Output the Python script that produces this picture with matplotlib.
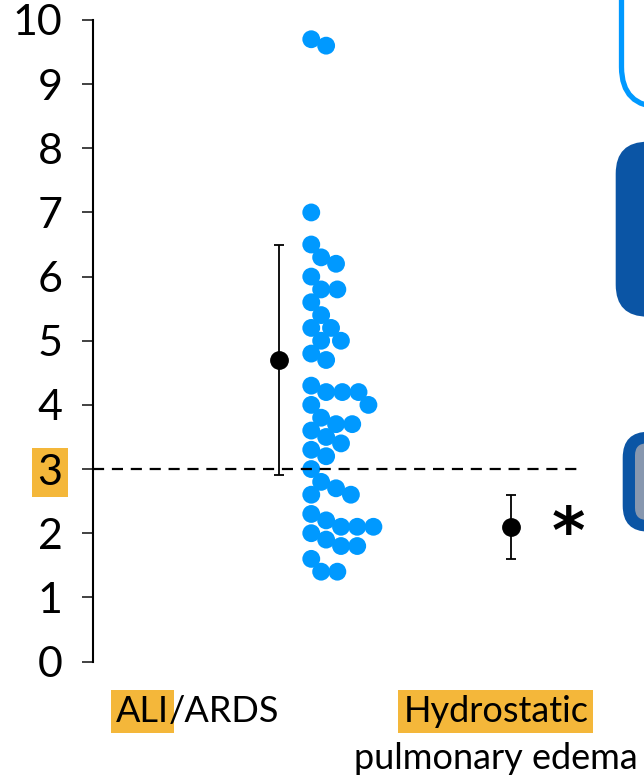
import numpy as np
import matplotlib
matplotlib.use('Agg')
import matplotlib.pyplot as plt
from matplotlib.patches import FancyBboxPatch
from matplotlib.transforms import IdentityTransform, blended_transform_factory

plt.rcParams['font.family'] = ['Lato', 'DejaVu Sans']

categories = ['ALI/ARDS', 'Hydrostatic']
subtitle = 'pulmonary edema'
ali_values = [9.7, 9.6, 7.0, 6.5, 6.3, 6.2, 6.0, 5.8, 5.8, 5.6, 5.4, 5.2, 5.2,
              5.0, 5.0, 4.8, 4.7, 4.3, 4.2, 4.2, 4.2, 4.0, 4.0, 3.8, 3.7, 3.7,
              3.6, 3.5, 3.4, 3.3, 3.2, 3.0, 2.8, 2.7, 2.6, 2.6, 2.3, 2.2, 2.1,
              2.1, 2.1, 2.0, 1.9, 1.8, 1.8, 1.6, 1.4, 1.4]
group_means = [4.7, 2.1]
group_sds = [1.8, 0.5]
y_ticks = list(range(0, 11))
cutoff = 3

W, H = 644, 777
orange = '#F4B73A'
dot_blue = '#0099FF'
dark_blue = '#0B55A5'

group_pos = [1.0, 2.0]
label_pos = [0.651, 1.935]
dot_shift = 0.14
label_fs = 26


def swarm_offsets(yp, d):
    # one-sided beeswarm: each dot goes to the smallest x offset that doesn't
    # collide with dots already placed (all in pixels)
    xs = np.zeros(len(yp))
    placed = []
    for i in np.argsort(-yp, kind='stable'):
        y = yp[i]
        cands = [0.0]
        for px, py in placed:
            dy = abs(py - y)
            if dy < d:
                cands.append(px + np.sqrt(d * d - dy * dy))
        for c in sorted(cands):
            if all((c - px) ** 2 + (y - py) ** 2 >= d * d - 1e-6 for px, py in placed):
                xs[i] = c
                break
        placed.append((xs[i], y))
    return xs


fig = plt.figure(figsize=(W / 100, H / 100), dpi=100)
ax = fig.add_axes([93 / W, 1 - 661.5 / H, 1 - 93 / W, (661.5 - 20) / H])
ax.set_ylim(0, 10)
ax.set_xlim(0.2, 2.573)

# blue dots, spread sideways in pixel space
vals = np.array(ali_values)
base = ax.transData.transform((group_pos[0] + dot_shift, 0))[0]
yp = ax.transData.transform(np.column_stack([np.full(len(vals), group_pos[0]), vals]))[:, 1]
xp = base + swarm_offsets(yp, 16.2)
xd = ax.transData.inverted().transform(np.column_stack([xp, yp]))[:, 0]
ax.scatter(xd, vals, s=165, color=dot_blue, edgecolors='none', zorder=3)

ax.errorbar(group_pos, group_means, yerr=group_sds, fmt='o', color='black',
            ms=12.5, capsize=3.5, elinewidth=1.3, capthick=1.3, zorder=4)

x0, x1 = ax.get_xlim()
ax.axhline(cutoff, xmin=0, xmax=(2.3 - x0) / (x1 - x0), color='black',
           lw=1.6, dashes=(5, 3.5), zorder=5)

ax.annotate('*', xy=(group_pos[1] + 0.246, group_means[1]), xytext=(0, -6),
            textcoords='offset points', fontsize=46, fontweight='bold',
            family='DejaVu Sans', ha='center', va='center')

# axis styling
for s in ['top', 'right', 'bottom']:
    ax.spines[s].set_visible(False)
ax.spines['left'].set_linewidth(1.5)
ax.set_xticks([])
ax.set_yticks(y_ticks)
ax.tick_params(axis='y', length=8, width=1.3, color='#333333', pad=14,
               labelsize=31)
ax.yaxis.get_major_ticks()[y_ticks.index(cutoff)].label1.set_bbox(
    dict(boxstyle='square,pad=0.12', fc=orange, ec='none'))

# category labels under the axis
tr = blended_transform_factory(ax.transData, fig.transFigure)
hl = dict(boxstyle='square,pad=0.14', fc=orange, ec='none')

# "ALI" highlighted, "/ARDS" plain; the pair is centred on its label position
tmp = ax.text(label_pos[0], 0.0712, categories[0], transform=tr,
              ha='center', va='baseline', fontsize=label_fs)
fig.canvas.draw()
left = tmp.get_window_extent().x0
tmp.remove()
head, tail = categories[0].split('/')
tr_px = blended_transform_factory(IdentityTransform(), fig.transFigure)
t_head = ax.text(left, 0.0712, head, transform=tr_px, ha='left',
                 va='baseline', fontsize=label_fs, clip_on=False, bbox=hl)
ax.annotate('/' + tail, xy=(1, 0), xycoords=t_head, ha='left', va='bottom',
            fontsize=label_fs, annotation_clip=False)

ax.text(label_pos[1], 0.0712, categories[1], transform=tr, ha='center',
        va='baseline', fontsize=label_fs, clip_on=False, bbox=hl)
ax.text(label_pos[1], 0.0103, subtitle, transform=tr, ha='center',
        va='baseline', fontsize=label_fs, clip_on=False)


def rounded(x, y_top, w, h, r, **kw):
    p = FancyBboxPatch((x, H - y_top - h), w, h,
                       boxstyle=f'round,pad=0,rounding_size={r}',
                       transform=IdentityTransform(), **kw)
    fig.add_artist(p)


# panels at the right edge
rounded(621.5, -100, 100, 207, 40, fc='none', ec=dot_blue, lw=3.8)
rounded(615.7, 141.7, 100, 175, 32, fc=dark_blue, ec='none')
rounded(622.7, 431.7, 100, 100, 26, fc=dark_blue, ec='none')
rounded(635, 443.3, 100, 76.7, 12, fc='#8797AF', ec='none')

fig.savefig('out.png', dpi=100)
